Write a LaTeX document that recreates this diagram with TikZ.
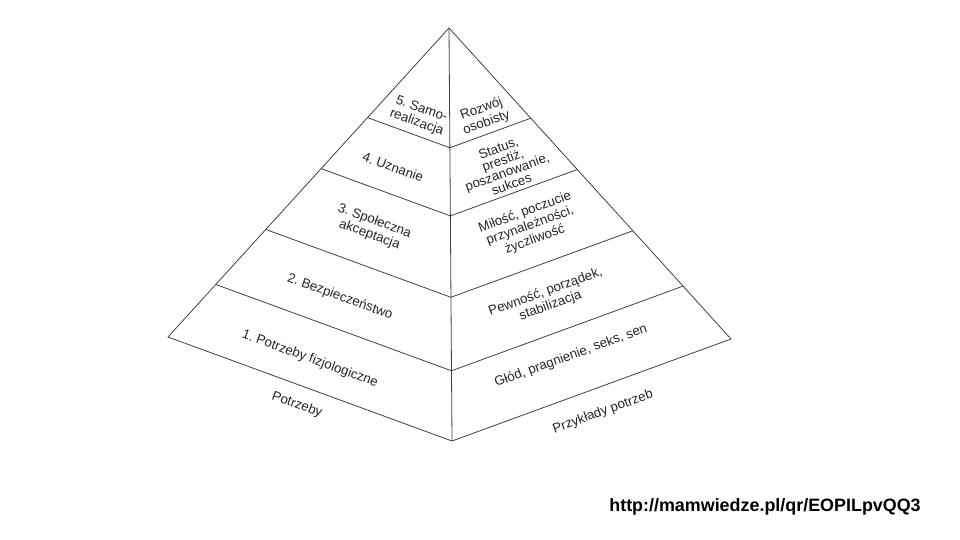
\documentclass[tikz,border=0pt]{standalone}
\usepackage{fontspec}
\setmainfont{Liberation Sans}
\usetikzlibrary{calc}

\begin{document}
\begin{tikzpicture}[
x=1pt, y=-1pt,
edge/.style={draw=black!75, line width=0.8pt, line join=round},
lefttxt/.style={rotate=-20, align=center, text=black!85, font=\fontsize{13.3}{14.5}\selectfont\frenchspacing, inner sep=0pt},
righttxt/.style={rotate=20, align=center, text=black!85, font=\fontsize{13.3}{14.5}\selectfont\frenchspacing, inner sep=0pt},
]
\useasboundingbox (0,0) rectangle (960,540);

% Corners
\coordinate (apex) at (449,28);
\coordinate (bl) at (168,337);
\coordinate (bf) at (452,441);
\coordinate (br) at (731,339);

% Outline
\draw[edge] (apex) -- (bl) -- (bf) -- (br) -- cycle;
\draw[edge] (apex) -- (bf);

% Levels
\foreach \t in {0.29,0.455,0.652,0.83}
  \draw[edge] ($(apex)!\t!(bl)$) -- ($(apex)!\t!(bf)$) -- ($(apex)!\t!(br)$);

% Needs on the left face
\node[lefttxt] (need5) at (419,116) {5. Samo-\\realizacja};
\node[lefttxt] (need4) at (393,167) {4. Uznanie};
\node[lefttxt] (need3) at (372,228) {3. Społeczna\\akceptacja};
\node[lefttxt] (need2) at (340,297) {2. Bezpieczeństwo};
\node[lefttxt] (need1) at (310,359) {1. Potrzeby fizjologiczne};
\node[lefttxt] (needs) at (297,405) {Potrzeby};

% Examples on the right face
\node[righttxt] (ex5) at (484,116) {Rozwój\\osobisty};
\node[righttxt, font=\fontsize{13.3}{12.8}\selectfont] (ex4) at (505,166) {Status,\\prestiż,\\poszanowanie,\\sukces};
\node[righttxt] (ex3) at (530,226) {Miłość, poczucie\\przynależności,\\życzliwość};
\node[righttxt] (ex2) at (548,299) {Pewność, porządek,\\stabilizacja};
\node[righttxt] (ex1) at (571,356) {Głód, pragnienie, seks, sen};
\node[righttxt] (examples) at (603,412) {Przykłady potrzeb};

% Source
\node[font=\fontsize{17.9}{20}\selectfont\bfseries, inner sep=0pt] (src) at (765,507) {http://mamwiedze.pl/qr/EOPILpvQQ3};

\end{tikzpicture}
\end{document}
